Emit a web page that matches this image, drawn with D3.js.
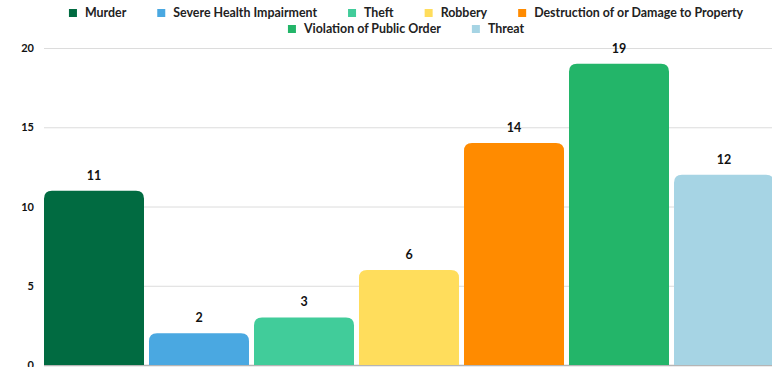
<!DOCTYPE html>
<html>
<head>
<meta charset="utf-8">
<script src="https://cdn.jsdelivr.net/npm/d3@7"></script>
<style>
  html, body { margin: 0; padding: 0; background: #fff; }
  svg { display: block; font-family: Lato, "Open Sans", sans-serif; font-weight: 700; }
</style>
</head>
<body>
<svg id="chart" width="772" height="367"></svg>
<script>
'use strict';

const categories = ['Murder', 'Severe Health Impairment', 'Theft', 'Robbery',
  'Destruction of or Damage to Property', 'Violation of Public Order', 'Threat'];
const counts = [11, 2, 3, 6, 14, 19, 12];
const colors = ['#016b41', '#4aa8e1', '#41cc9a', '#ffdd5c', '#ff8b00', '#23b569', '#a6d4e4'];
const yTicks = [0, 5, 10, 15, 20];

const svg = d3.select('#chart');
const width = 772;

const x = d3.scaleBand()
  .domain(categories)
  .range([44, 774])
  .paddingInner(5 / 105)
  .paddingOuter(0);

const y = d3.scaleLinear().domain([0, 20]).range([365, 48]);

// grid lines + tick labels
const grid = svg.append('g');
grid.selectAll('line').data(yTicks).join('line')
  .attr('x1', 44).attr('x2', width)
  .attr('y1', d => y(d) + 0.5).attr('y2', d => y(d) + 0.5)
  .attr('stroke', d => d === 0 ? '#b5b5b5' : '#dcdcdc')
  .attr('stroke-width', d => d === 0 ? 1.5 : 1);

grid.selectAll('text').data(yTicks).join('text')
  .attr('x', 34).attr('y', d => y(d) + 4)
  .attr('text-anchor', 'end')
  .attr('font-size', 11)
  .attr('fill', '#111')
  .text(d => d);

// bars with rounded top corners
function topRounded(x0, y0, w, h, r) {
  r = Math.min(r, h, w / 2);
  return `M${x0},${y0 + h}V${y0 + r}Q${x0},${y0} ${x0 + r},${y0}` +
    `H${x0 + w - r}Q${x0 + w},${y0} ${x0 + w},${y0 + r}V${y0 + h}Z`;
}

const rows = categories.map((c, i) => ({ cat: c, value: counts[i], color: colors[i] }));

svg.append('g').selectAll('path').data(rows).join('path')
  .attr('d', d => topRounded(x(d.cat), y(d.value), x.bandwidth(), y(0) - y(d.value), 8))
  .attr('fill', d => d.color);

svg.append('g').selectAll('text').data(rows).join('text')
  .attr('x', d => x(d.cat) + x.bandwidth() / 2)
  .attr('y', d => y(d.value) - 11)
  .attr('text-anchor', 'middle')
  .attr('font-size', 12.5)
  .attr('fill', '#111')
  .text(d => d.value);

// legend, wrapped and centred over the plot
const legend = svg.append('g');
const items = rows.map(d => {
  const g = legend.append('g');
  g.append('rect').attr('width', 8).attr('height', 8).attr('fill', d.color);
  const t = g.append('text').attr('x', 16).attr('y', 8)
    .attr('font-size', 12.4).attr('fill', '#222').text(d.cat);
  return { g, w: 16 + t.node().getComputedTextLength() };
});

const gap = 31, maxRow = 690, center = 406;
const lines = [[]];
let cur = 0;
items.forEach(it => {
  const add = (lines[lines.length - 1].length ? gap : 0) + it.w;
  if (cur + add > maxRow && lines[lines.length - 1].length) {
    lines.push([it]);
    cur = it.w;
  } else {
    lines[lines.length - 1].push(it);
    cur += add;
  }
});

lines.forEach((line, li) => {
  const total = d3.sum(line, d => d.w) + gap * (line.length - 1);
  let xx = center - total / 2;
  line.forEach(it => {
    it.g.attr('transform', `translate(${xx},${9 + li * 16})`);
    xx += it.w + gap;
  });
});
</script>
</body>
</html>
